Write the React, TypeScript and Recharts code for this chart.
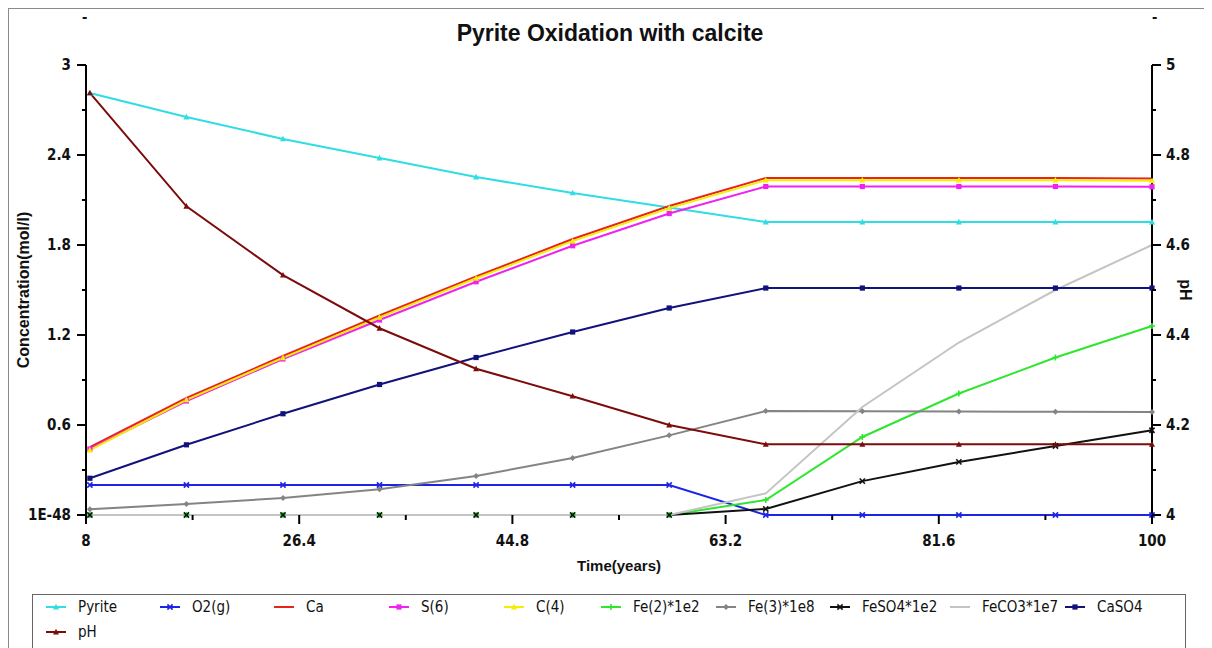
import React from 'react';
import { LineChart, Line, XAxis, YAxis } from 'recharts';

// ---- data ----
const times = [8.333, 16.667, 25, 33.333, 41.667, 50, 58.333, 66.667, 75, 83.333, 91.667, 100];
const pyrite = [2.813, 2.653, 2.507, 2.38, 2.253, 2.147, 2.05, 1.953, 1.953, 1.953, 1.953, 1.953];
const o2g = [0.2, 0.2, 0.2, 0.2, 0.2, 0.2, 0.2, 0, 0, 0, 0, 0];
const ca = [0.453, 0.78, 1.06, 1.33, 1.59, 1.84, 2.06, 2.247, 2.247, 2.247, 2.247, 2.243];
const s6 = [0.44, 0.76, 1.04, 1.3, 1.555, 1.795, 2.01, 2.19, 2.19, 2.19, 2.19, 2.188];
const c4 = [0.433, 0.767, 1.048, 1.318, 1.578, 1.826, 2.046, 2.232, 2.232, 2.232, 2.232, 2.228];
const fe2 = [0, 0, 0, 0, 0, 0, 0, 0.1, 0.52, 0.81, 1.05, 1.26];
const fe3 = [0.038, 0.073, 0.113, 0.171, 0.26, 0.38, 0.531, 0.693, 0.692, 0.69, 0.688, 0.686];
const feso4 = [0, 0, 0, 0, 0, 0, 0, 0.04, 0.226, 0.354, 0.46, 0.565];
const feco3 = [0, 0, 0, 0, 0, 0, 0, 0.144, 0.72, 1.15, 1.5, 1.8];
const caso4 = [0.245, 0.468, 0.675, 0.87, 1.05, 1.22, 1.38, 1.513, 1.513, 1.513, 1.513, 1.513];
const ph = [4.938, 4.686, 4.533, 4.415, 4.325, 4.264, 4.2, 4.157, 4.157, 4.157, 4.157, 4.157];

const xTicks = [8, 17.2, 26.4, 35.6, 44.8, 54, 63.2, 72.4, 81.6, 90.8, 100];
const xTickLabels = ['8', '', '26.4', '', '44.8', '', '63.2', '', '81.6', '', '100'];
const concTicks = [0, 0.3, 0.6, 0.9, 1.2, 1.5, 1.8, 2.1, 2.4, 2.7, 3];
const concTickLabels = ['1E-48', '', '0.6', '', '1.2', '', '1.8', '', '2.4', '', '3'];
const phTicks = [4, 4.1, 4.2, 4.3, 4.4, 4.5, 4.6, 4.7, 4.8, 4.9, 5];
const phTickLabels = ['4', '', '4.2', '', '4.4', '', '4.6', '', '4.8', '', '5'];

const seriesNames = ['Pyrite', 'O2(g)', 'Ca', 'S(6)', 'C(4)', 'Fe(2)*1e2', 'Fe(3)*1e8', 'FeSO4*1e2', 'FeCO3*1e7', 'CaSO4', 'pH'];
const seriesValues = [pyrite, o2g, ca, s6, c4, fe2, fe3, feso4, feco3, caso4, ph];

// ---- styles ----
const seriesColors = ['#2fdde2', '#1e24e6', '#e8231c', '#f022f0', '#f4ee00', '#2ee62e', '#848484', '#111111', '#c4c4c4', '#12127c', '#7c0c0c'];
const seriesMarkers = ['tri', 'x', 'none', 'square', 'tri', 'plus', 'diamond', 'x', 'none', 'square', 'tri'];
const seriesAxis = ['c', 'c', 'c', 'c', 'c', 'c', 'c', 'c', 'c', 'c', 'ph'];
const legendLeft = [46, 160, 274, 389, 504, 601, 716, 830, 950, 1065, 46];
const legendRow = [0, 0, 0, 0, 0, 0, 0, 0, 0, 0, 1];

const narrow = '"Liberation Sans Narrow", "Arial Narrow", "DejaVu Sans Condensed", "Liberation Sans", Arial, sans-serif';
const sans = '"Liberation Sans", Arial, sans-serif';

const keys = seriesNames.map((_, i) => `s${i}`);
const rows = times.map((t, i) => {
  const r: any = { t };
  seriesValues.forEach((arr, j) => { r[keys[j]] = arr[i]; });
  return r;
});

function Marker({ shape, cx, cy, color }: any) {
  if (cx == null || cy == null) return <g />;
  switch (shape) {
    case 'tri':
      return <polygon points={`${cx},${cy - 3.2} ${cx - 3},${cy + 2.4} ${cx + 3},${cy + 2.4}`} fill={color} />;
    case 'square':
      return <rect x={cx - 2.6} y={cy - 2.6} width={5.2} height={5.2} fill={color} />;
    case 'diamond':
      return <polygon points={`${cx},${cy - 3} ${cx + 3},${cy} ${cx},${cy + 3} ${cx - 3},${cy}`} fill={color} />;
    case 'x':
      return (
        <g stroke={color} strokeWidth={1.6}>
          <line x1={cx - 2.6} y1={cy - 2.6} x2={cx + 2.6} y2={cy + 2.6} />
          <line x1={cx - 2.6} y1={cy + 2.6} x2={cx + 2.6} y2={cy - 2.6} />
        </g>
      );
    case 'plus':
      return (
        <g stroke={color} strokeWidth={1.6}>
          <line x1={cx - 3} y1={cy} x2={cx + 3} y2={cy} />
          <line x1={cx} y1={cy - 3} x2={cx} y2={cy + 3} />
        </g>
      );
    default:
      return <g />;
  }
}

function labelIndex(ticks: number[], v: number) {
  return ticks.findIndex((t) => Math.abs(t - v) < 1e-6);
}

const XTick = (props: any) => {
  const { x, y, payload } = props;
  const i = labelIndex(xTicks, payload.value);
  const lbl = xTickLabels[i] || '';
  const major = lbl !== '';
  return (
    <g>
      <line x1={x} y1={y} x2={x} y2={y + (major ? 9 : 5)} stroke="#000" strokeWidth={2} />
      {major && (
        <text x={x} y={y + 31} textAnchor="middle" fontFamily={narrow} fontWeight="bold" fontSize={15} fill="#111">{lbl}</text>
      )}
    </g>
  );
};

const LeftTick = (props: any) => {
  const { x, y, payload } = props;
  const i = labelIndex(concTicks, payload.value);
  const lbl = concTickLabels[i] || '';
  const major = lbl !== '';
  return (
    <g>
      <line x1={x - (major ? 9 : 4)} y1={y} x2={x} y2={y} stroke="#000" strokeWidth={2} />
      {major && (
        <text x={x - 15} y={y + 5} textAnchor="end" fontFamily={narrow} fontWeight="bold" fontSize={15} fill="#111">{lbl}</text>
      )}
    </g>
  );
};

const RightTick = (props: any) => {
  const { x, y, payload } = props;
  const i = labelIndex(phTicks, payload.value);
  const lbl = phTickLabels[i] || '';
  const major = lbl !== '';
  return (
    <g>
      <line x1={x} y1={y} x2={x + (major ? 9 : 4)} y2={y} stroke="#000" strokeWidth={2} />
      {major && (
        <text x={x + 14} y={y + 5} textAnchor="start" fontFamily={narrow} fontWeight="bold" fontSize={15} fill="#111">{lbl}</text>
      )}
    </g>
  );
};

function LegendIcon({ i }: { i: number }) {
  return (
    <svg width={20} height={10} style={{ position: 'absolute', left: 0, top: 2 }}>
      <line x1={0} y1={5} x2={20} y2={5} stroke={seriesColors[i]} strokeWidth={2} />
      <Marker shape={seriesMarkers[i]} cx={10} cy={5} color={seriesColors[i]} />
    </svg>
  );
}

export default function App() {
  return (
    <div style={{ position: 'relative', width: 1204, height: 640, overflow: 'hidden', background: '#fff' }}>
      <div style={{ position: 'absolute', left: 0, top: 0, width: 1, height: 640, background: '#8a8a8a' }} />
      <div style={{ position: 'absolute', left: 0, top: 0, width: 1204, height: 1, background: '#8a8a8a' }} />
      <div style={{ position: 'absolute', left: 0, top: 12, width: 1204, textAlign: 'center', fontFamily: sans, fontWeight: 'bold', fontSize: 23, color: '#111' }}>
        Pyrite Oxidation with calcite
      </div>
      <div style={{ position: 'absolute', left: 74, top: 0, fontFamily: sans, fontWeight: 'bold', fontSize: 16, color: '#111' }}>-</div>
      <div style={{ position: 'absolute', left: 1144, top: 0, fontFamily: sans, fontWeight: 'bold', fontSize: 16, color: '#111' }}>-</div>
      <div style={{ position: 'absolute', left: 0, top: 0 }}>
        <LineChart width={1204} height={640} data={rows} margin={{ top: 57, right: 0, bottom: 0, left: 0 }}>
          <XAxis
            dataKey="t"
            type="number"
            domain={[8, 100]}
            ticks={xTicks}
            interval={0}
            height={133}
            axisLine={false}
            tickLine={false}
            tickSize={0}
            tickMargin={0}
            tick={<XTick />}
            label={(p: any) => {
              const vb = p.viewBox || {};
              return (
                <text x={vb.x + vb.width / 2} y={vb.y + 56} textAnchor="middle" fontFamily={sans} fontWeight="bold" fontSize={15} fill="#111">Time(years)</text>
              );
            }}
          />
          <YAxis
            yAxisId="c"
            type="number"
            domain={[0, 3]}
            ticks={concTicks}
            interval={0}
            width={78}
            axisLine={{ stroke: '#000', strokeWidth: 2 }}
            tickLine={false}
            tickSize={0}
            tickMargin={0}
            tick={<LeftTick />}
            label={(p: any) => {
              const vb = p.viewBox || {};
              const cy = vb.y + vb.height / 2;
              return (
                <text x={15} y={cy} transform={`rotate(-90 15 ${cy})`} textAnchor="middle" dominantBaseline="central" fontFamily={sans} fontWeight="bold" fontSize={16} fill="#111">Concentration(mol/l)</text>
              );
            }}
          />
          <YAxis
            yAxisId="ph"
            orientation="right"
            type="number"
            domain={[4, 5]}
            ticks={phTicks}
            interval={0}
            width={60}
            axisLine={{ stroke: '#000', strokeWidth: 2 }}
            tickLine={false}
            tickSize={0}
            tickMargin={0}
            tick={<RightTick />}
            label={(p: any) => {
              const vb = p.viewBox || {};
              const cy = vb.y + vb.height / 2;
              const cx = vb.x + 33;
              return (
                <text x={cx} y={cy} transform={`rotate(90 ${cx} ${cy})`} textAnchor="middle" dominantBaseline="central" fontFamily={sans} fontWeight="bold" fontSize={16} fill="#111">pH</text>
              );
            }}
          />
          {keys.map((k, i) => (
            <Line
              key={k}
              yAxisId={seriesAxis[i]}
              dataKey={k}
              name={seriesNames[i]}
              type="linear"
              stroke={seriesColors[i]}
              strokeWidth={2}
              isAnimationActive={false}
              activeDot={false}
              dot={seriesMarkers[i] === 'none' ? false : (p: any) => (
                <Marker key={`${k}-${p.index}`} shape={seriesMarkers[i]} cx={p.cx} cy={p.cy} color={seriesColors[i]} />
              )}
            />
          ))}
        </LineChart>
      </div>
      <div style={{ position: 'absolute', left: 24, top: 586, width: 1154, height: 80, border: '1px solid #666', boxSizing: 'border-box' }} />
      {seriesNames.map((n, i) => (
        <div key={n} style={{ position: 'absolute', left: legendLeft[i] - 8, top: 592 + legendRow[i] * 25, height: 16, fontFamily: narrow, fontSize: 15, color: '#111', whiteSpace: 'nowrap' }}>
          <LegendIcon i={i} />
          <span style={{ position: 'absolute', left: 32, top: -2 }}>{n}</span>
        </div>
      ))}
    </div>
  );
}
